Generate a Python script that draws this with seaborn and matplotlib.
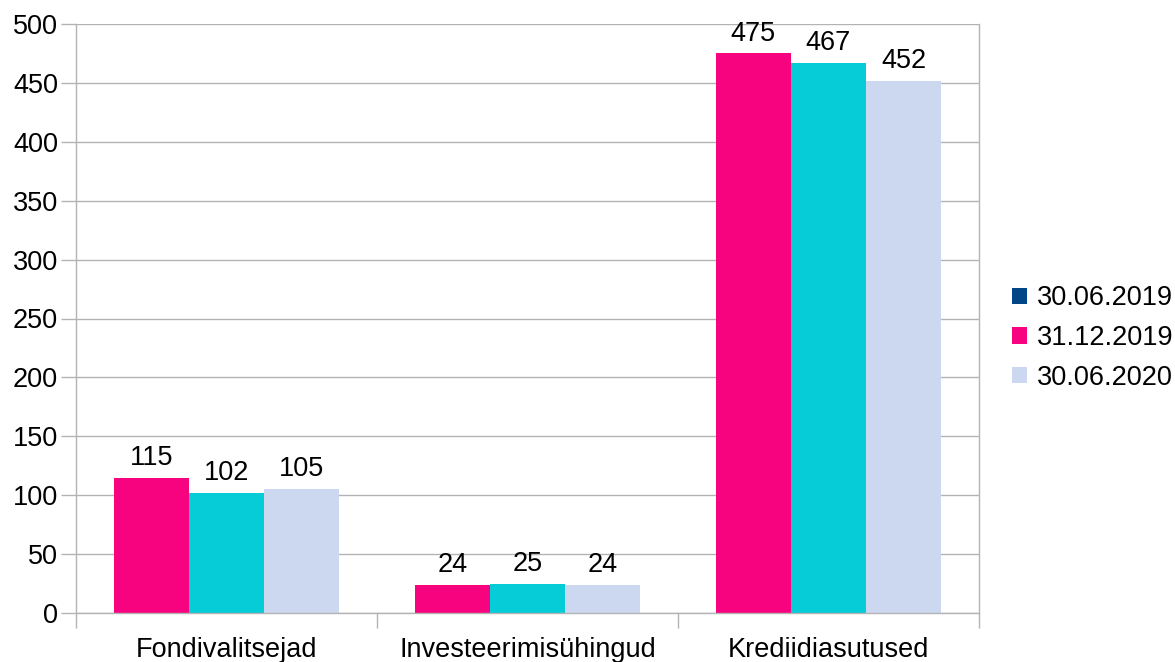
import matplotlib
matplotlib.use("Agg")
import matplotlib.pyplot as plt
import seaborn as sns
import pandas as pd
from matplotlib.patches import Patch

categories = ["Fondivalitsejad", "Investeerimisühingud", "Krediidiasutused"]
series = ["30.06.2019", "31.12.2019", "30.06.2020"]
values_2019_06 = [115, 24, 475]
values_2019_12 = [102, 25, 467]
values_2020_06 = [105, 24, 452]
bar_colors = ["#F7037F", "#05CCD7", "#CCD8F0"]
legend_colors = ["#004586", "#F7037F", "#CCD8F0"]

rows = []
for s, vals in zip(series, [values_2019_06, values_2019_12, values_2020_06]):
    for c, v in zip(categories, vals):
        rows.append({"cat": c, "series": s, "value": v})
df = pd.DataFrame(rows)

sns.set_style("white")
plt.rcParams["font.family"] = ["Liberation Sans", "DejaVu Sans"]
plt.rcParams["text.color"] = "black"
plt.rcParams["xtick.color"] = "black"
plt.rcParams["ytick.color"] = "black"

FS = 19.5

fig = plt.figure(figsize=(11.75, 6.62), dpi=100)
ax = fig.add_axes([76/1175, 1-613/662, (979-76)/1175, (613-24)/662])

sns.barplot(data=df, x="cat", y="value", hue="series", palette=bar_colors,
            width=0.75, saturation=1, ax=ax, legend=False, gap=0, linewidth=0)

for cont in ax.containers:
    ax.bar_label(cont, fmt="%d", padding=5, fontsize=FS, color="black")

ax.set_ylim(0, 500)
ax.set_xlim(-0.5, 2.5)
ax.set_yticks(range(0, 501, 50))
ax.yaxis.grid(True, color="#b3b3b3", linewidth=1)
ax.set_axisbelow(True)
ax.set_xlabel("")
ax.set_ylabel("")
ax.spines["top"].set_visible(False)
for sp in ["left", "bottom", "right"]:
    ax.spines[sp].set_color("#b3b3b3")
    ax.spines[sp].set_linewidth(1)

ax.tick_params(axis="y", left=True, length=11, width=1, color="#b3b3b3",
               labelcolor="black", labelsize=FS, pad=2)
ax.set_xticks([0, 1, 2])
ax.set_xticklabels(categories)
ax.tick_params(axis="x", bottom=True, length=0, labelsize=FS, labelcolor="black", pad=17)
ax.set_xticks([-0.5, 0.5, 1.5, 2.5], minor=True)
ax.tick_params(axis="x", which="minor", bottom=True, length=11, width=1, color="#b3b3b3")

handles = [Patch(facecolor=c, edgecolor="none") for c in legend_colors]
fig.legend(handles, series, loc="center left", bbox_to_anchor=(988/1175, 1-338/662),
           frameon=False, fontsize=FS, handlelength=0.55, handleheight=0.55,
           handletextpad=0.35, labelspacing=0.5, labelcolor="black")

fig.savefig("out.png", dpi=100)
